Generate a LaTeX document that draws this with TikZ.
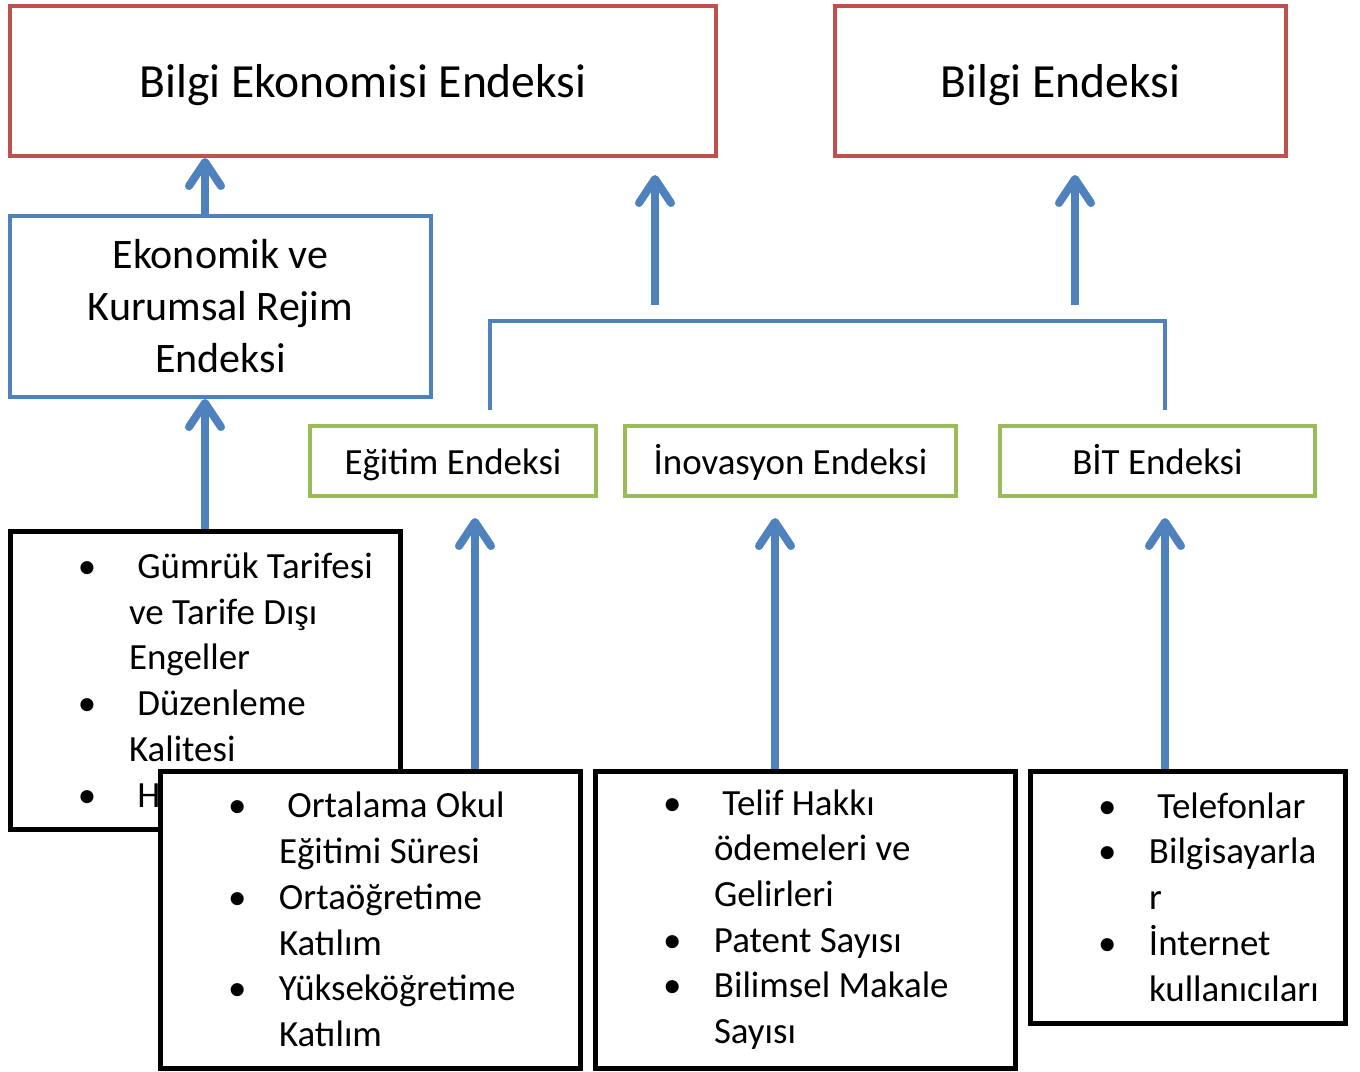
\documentclass[tikz,border=0pt]{standalone}
\usepackage{fontspec}
\setmainfont{Carlito}
\usetikzlibrary{arrows.meta}
\definecolor{kred}{HTML}{C0504D}
\definecolor{kblue}{HTML}{4F81BD}
\definecolor{kgreen}{HTML}{9BBB59}
% bullet and hanging indent for the lists
\newcommand{\blt}{\hspace*{51pt}\makebox[38.25pt][l]{•}}
\newcommand{\cnt}{\hspace*{89.25pt}}
\tikzset{
  bigbox/.style={draw=kred, line width=3pt, minimum height=112.5pt, text height=27pt, text depth=3pt, font=\fontsize{35.7}{43}\selectfont},
  midbox/.style={draw=kblue, line width=3pt, align=center, font=\fontsize{31.5}{39}\selectfont},
  smallbox/.style={draw=kgreen, line width=3pt, minimum height=52.5pt, text height=22pt, text depth=2pt, font=\fontsize{27.7}{34}\selectfont},
  listbox/.style={draw=black, line width=3.75pt, fill=white, inner xsep=0pt, align=flush left, font=\fontsize{27.7}{34.3}\selectfont},
  uparrow/.style={draw=kblue, line width=6pt, -{Straight Barb[round,length=18pt,width=24pt]}},
  bracket/.style={draw=kblue, line width=3pt},
}
\begin{document}
\begin{tikzpicture}[x=0.75pt,y=-0.75pt]
\useasboundingbox (0,0) rectangle (1360,1071);
% top row
\node[bigbox, minimum width=529.5pt] (bee) at (363,81) {Bilgi Ekonomisi Endeksi};
\node[bigbox, minimum width=338.25pt] (be) at (1060.5,81) {Bilgi Endeksi};
\node[midbox, minimum width=315.75pt, minimum height=135.75pt] (ekr) at (220.5,306.5) {Ekonomik ve\\Kurumsal Rejim\\Endeksi};
% sub indices
\node[smallbox, minimum width=214.5pt] (eg) at (453,461) {Eğitim Endeksi};
\node[smallbox, minimum width=248.25pt] (in) at (790.5,461) {İnovasyon Endeksi};
\node[smallbox, minimum width=236.25pt] (bit) at (1157.5,461) {BİT Endeksi};
% lists
\node[listbox, text width=292.5pt, minimum height=223.5pt] (l1) at (205,680) {\blt\ Gümrük Tarifesi\\ \cnt ve Tarife Dışı\\ \cnt Engeller\\ \blt\ Düzenleme\\ \cnt Kalitesi\\ \blt\ H};
\node[listbox, text width=315pt, minimum height=222.75pt] (l2) at (370,919.5) {\blt\ Ortalama Okul\\ \cnt Eğitimi Süresi\\ \blt Ortaöğretime\\ \cnt Katılım\\ \blt Yükseköğretime\\ \cnt Katılım};
\node[listbox, text width=315pt, minimum height=222.75pt] (l3) at (805,919.5) {\blt\ Telif Hakkı\\ \cnt ödemeleri ve\\ \cnt Gelirleri\\ \blt Patent Sayısı\\ \blt Bilimsel Makale\\ \cnt Sayısı};
\node[listbox, text width=236.25pt, minimum height=189pt] (l4) at (1187.5,897) {\blt\ Telefonlar\\ \blt Bilgisayarla\\ \cnt r\\ \blt İnternet\\ \cnt kullanıcıları};
% arrow ends
\coordinate (teg) at (475,518);
\coordinate (tin) at (775,518);
\coordinate (tbit) at (1165,518);
\coordinate (bl) at (490,410);
\coordinate (br) at (1165,410);
\coordinate (sa) at (655,305);
\coordinate (ta) at (655,175);
\coordinate (sb) at (1075,305);
\coordinate (tb) at (1075,175);
\draw[uparrow] (l1.north) -- (l1.north |- ekr.south);
\draw[uparrow] (l1.north |- ekr.north) -- (l1.north |- bee.south);
\draw[uparrow] (l2.north -| teg) -- (teg);
\draw[uparrow] (l3.north -| tin) -- (tin);
\draw[uparrow] (l4.north -| tbit) -- (tbit);
\draw[bracket] (bl) -- ++(0,-89) -| (br);
\draw[uparrow] (sa) -- (ta);
\draw[uparrow] (sb) -- (tb);
\end{tikzpicture}
\end{document}
